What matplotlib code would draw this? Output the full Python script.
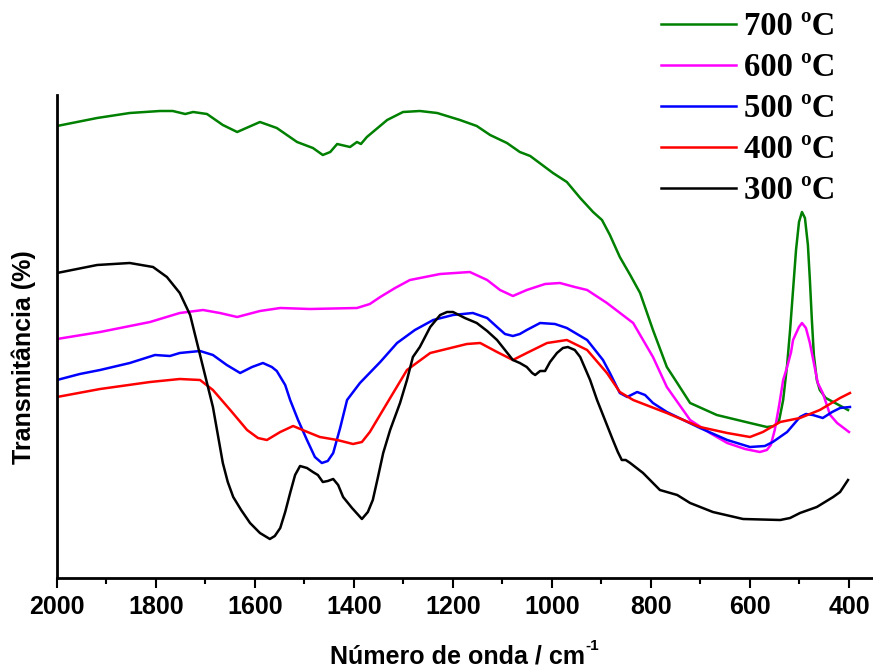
import matplotlib
matplotlib.use("Agg")
import matplotlib.pyplot as plt
from matplotlib.ticker import MultipleLocator

# FTIR spectra, transmittance in arbitrary units
wn_700 = [2000, 1919, 1853, 1792, 1766, 1741, 1725, 1697, 1665, 1636, 1590, 1556, 1515,
          1483, 1463, 1448, 1434, 1408, 1394, 1386, 1374, 1333, 1301, 1267, 1232, 1186,
          1152, 1125, 1091, 1065, 1044, 998, 970, 943, 917, 899, 883, 863, 842, 822, 796,
          768, 747, 721, 667, 600, 566, 550, 541, 533, 525, 519, 513, 507, 501, 495, 489,
          483, 479, 475, 471, 465, 459, 447, 428, 402]
t_700 = [452, 460, 465, 467, 467, 464, 466, 464, 453, 446, 456, 450, 436,
         430, 423, 426, 434, 431, 436, 434, 441, 458, 466, 467, 465, 458,
         452, 443, 435, 426, 422, 405, 396, 380, 366, 358, 343, 321, 303, 285, 248,
         211, 195, 175, 163, 155, 151, 152, 158, 178, 213, 248, 288, 328, 356, 366, 360,
         333, 298, 258, 223, 198, 188, 180, 175, 168]

wn_600 = [2000, 1913, 1812, 1752, 1705, 1671, 1636, 1590, 1549, 1489, 1394, 1368, 1347,
          1317, 1287, 1226, 1166, 1131, 1105, 1079, 1051, 1014, 984, 954, 929, 889, 836,
          796, 768, 721, 681, 646, 610, 580, 566, 558, 550, 541, 533, 525, 517, 513, 501,
          495, 487, 479, 471, 463, 453, 438, 424, 400]
t_600 = [239, 246, 256, 265, 268, 265, 261, 267, 270, 269, 270, 274, 281,
         290, 298, 304, 306, 298, 288, 282, 288, 294, 295, 291, 288, 275, 255,
         221, 191, 158, 145, 135, 129, 126, 128, 133, 148, 173, 198, 211, 226, 238, 251,
         255, 250, 235, 215, 195, 185, 163, 155, 146]

wn_500 = [2000, 1954, 1913, 1853, 1802, 1772, 1752, 1711, 1685, 1657, 1630, 1606, 1584,
          1566, 1556, 1539, 1529, 1513, 1495, 1479, 1465, 1453, 1442, 1428, 1414, 1388,
          1347, 1313, 1277, 1240, 1200, 1160, 1131, 1111, 1095, 1079, 1065, 1051, 1024,
          994, 970, 929, 897, 883, 863, 848, 828, 812, 796, 768, 701, 646, 600, 570, 554,
          525, 499, 487, 473, 453, 434, 418, 398]
t_500 = [198, 204, 208, 215, 223, 222, 225, 227, 223, 213, 205, 211, 215,
         211, 207, 193, 178, 158, 138, 121, 115, 117, 125, 150, 178, 195,
         216, 235, 248, 258, 263, 265, 260, 251, 244, 242, 244, 248, 255,
         254, 250, 238, 218, 205, 185, 181, 186, 183, 175, 166, 150, 138, 131, 132, 136,
         146, 161, 164, 163, 160, 166, 170, 171]

wn_400 = [2000, 1913, 1812, 1752, 1711, 1685, 1650, 1616, 1594, 1576, 1549, 1523, 1499,
          1469, 1434, 1402, 1384, 1368, 1333, 1293, 1246, 1172, 1145, 1111, 1079, 1051,
          1010, 970, 929, 889, 863, 836, 768, 701, 646, 600, 574, 539, 499, 459, 418, 398]
t_400 = [181, 189, 196, 199, 198, 188, 168, 148, 140, 138, 146, 152, 147,
         141, 138, 134, 136, 146, 175, 208, 225, 234, 235, 226, 218, 225,
         235, 238, 228, 205, 186, 178, 165, 151, 145, 141, 146, 156, 160, 168, 180, 185]

wn_300 = [2000, 1919, 1853, 1806, 1778, 1752, 1731, 1717, 1701, 1685, 1675, 1665, 1655,
          1644, 1628, 1610, 1590, 1570, 1560, 1549, 1539, 1529, 1519, 1509, 1495, 1483,
          1473, 1463, 1453, 1442, 1432, 1422, 1404, 1384, 1372, 1362, 1352, 1341, 1327,
          1307, 1293, 1281, 1267, 1246, 1226, 1212, 1200, 1176, 1152, 1131, 1111, 1095,
          1079, 1065, 1051, 1040, 1034, 1024, 1014, 1004, 990, 978, 968, 954, 943, 923,
          909, 893, 877, 867, 859, 851, 842, 816, 782, 747, 721, 675, 614, 539, 519, 499,
          465, 432, 418, 402]
t_300 = [305, 313, 315, 311, 301, 285, 263, 235, 203, 171, 143, 115, 96,
         81, 68, 55, 45, 39, 42, 50, 66, 85, 103, 112, 110, 106,
         103, 96, 97, 99, 93, 81, 70, 59, 66, 78, 100, 125, 148,
         175, 198, 221, 231, 251, 263, 266, 266, 260, 255, 247, 238, 228,
         218, 215, 211, 205, 203, 207, 207, 216, 225, 230, 231, 228, 221, 198,
         178, 158, 138, 126, 118, 118, 115, 105, 88, 83, 75, 66, 59, 58, 60, 65,
         71, 81, 86, 98]

labels = ["700 ºC", "600 ºC", "500 ºC", "400 ºC", "300 ºC"]
colors = ["#008000", "#ff00ff", "#0000ff", "#ff0000", "#000000"]
series = [(wn_700, t_700), (wn_600, t_600), (wn_500, t_500), (wn_400, t_400), (wn_300, t_300)]

fig = plt.figure(figsize=(8.73, 6.72), dpi=100)
ax = fig.add_axes([57 / 873, 94 / 672, 816 / 873, 483 / 672])

handles = []
for (wn, t), lab, c in zip(series, labels, colors):
    h, = ax.plot(wn, t, color=c, lw=1.8, label=lab, solid_joinstyle="round")
    handles.append(h)

ax.set_xlim(2000, 351.5)
ax.set_ylim(0, 483)
ax.set_yticks([])
ax.xaxis.set_major_locator(MultipleLocator(200))
ax.xaxis.set_minor_locator(MultipleLocator(100))
ax.tick_params(axis="x", which="major", direction="out", length=7, width=1.5, pad=5)
ax.tick_params(axis="x", which="minor", direction="out", length=4, width=1.5)
for lbl in ax.get_xticklabels():
    lbl.set_fontfamily("Liberation Sans")
    lbl.set_fontweight("bold")
    lbl.set_fontsize(18)

for s in ["top", "right"]:
    ax.spines[s].set_visible(False)
ax.spines["left"].set_linewidth(2)
ax.spines["bottom"].set_linewidth(2)

# x label, with a small superscript like the original
fig.text(457 / 873, 1 - 657 / 672, "Número de onda / cm", ha="center", va="center",
         fontsize=18, fontweight="bold", family="Liberation Sans")
fig.text(585 / 873, 1 - 646 / 672, "-1", ha="left", va="center",
         fontsize=11, fontweight="bold", family="Liberation Sans")
fig.text(24 / 873, 1 - 357 / 672, "Transmitância (%)", rotation=90, ha="center", va="center",
         fontsize=18, fontweight="bold", family="Liberation Sans")

leg = ax.legend(handles=handles, loc="upper left", bbox_to_anchor=(661 / 873, 1 - 11 / 672),
                bbox_transform=fig.transFigure, frameon=False, borderpad=0, borderaxespad=0,
                handlelength=2.3, handletextpad=0.25, labelspacing=0.31,
                prop={"family": "Liberation Serif", "weight": "bold", "size": 23.5})

fig.savefig("out.png", dpi=100)
